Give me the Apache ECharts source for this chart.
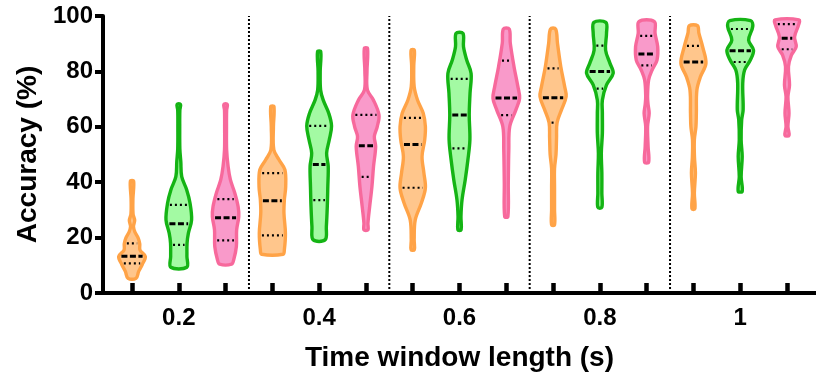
<!DOCTYPE html>
<html><head><meta charset="utf-8">
<script src="https://cdn.jsdelivr.net/npm/echarts@6/dist/echarts.min.js"></script>
<style>html,body{margin:0;padding:0;background:#fff}#c{width:816px;height:379px}</style>
</head><body><div id="c"></div>
<script>
// ---- data ----
const groupLabels = ['0.2', '0.4', '0.6', '0.8', '1'];
const seriesNames = ['Orange', 'Green', 'Pink'];
const yTicks = [0, 20, 40, 60, 80, 100];

// violin profiles: [accuracy %, relative density 0-100], bottom to top
const orangeProfiles = [
  [[5.3,30],[7.8,50],[10.2,76],[13.2,100],[15.5,60],[17.8,58],[20,45],[22,22],[24,11],[26.2,20],[28.5,8],[34,7],[40.4,12]],
  [[14,80],[15.6,90],[21.6,98],[28.8,87],[33.6,90],[38.4,100],[44.5,94],[48.1,50],[51.7,11],[60,8],[67.3,12]],
  [[15.6,12],[19.2,11],[26.4,19],[32.5,65],[37.9,95],[43.3,84],[49.3,70],[55.3,90],[60.1,95],[64.9,79],[69.7,36],[74.5,11],[82,8],[87.7,12]],
  [[24.6,11],[30,11],[38,11],[45,11],[50,22],[56,26],[61.5,30],[66.1,63],[70.9,98],[74.5,87],[81.7,58],[90.2,33],[95.3,19]],
  [[30.4,11],[36.1,7],[43.3,15],[49,8],[55.3,7],[60.1,19],[64.9,22],[73.3,26],[78.1,53],[82.9,94],[88.9,69],[93.8,41],[96.5,30]]
];
const greenProfiles = [
  [[9.3,60],[13.2,61],[18,62],[21.6,72],[26.4,96],[32.5,84],[37.3,59],[42,22],[47.5,15],[52,8],[60,7],[66,8],[68.1,13]],
  [[19.2,45],[24,54],[31.2,61],[38.4,65],[45.7,68],[50.5,56],[55.3,76],[60.3,93],[64.9,72],[69.7,30],[73.3,11],[80,8],[87.1,12]],
  [[22.8,12],[27.6,11],[33.6,19],[40.9,43],[48.1,63],[55.3,78],[64.3,73],[72.1,79],[79.3,87],[84.1,54],[88.9,30],[93.7,26]],
  [[30.9,15],[36,15],[43.3,15],[50.5,11],[57.7,19],[65,19],[69.7,19],[75.1,50],[79.3,100],[82.9,76],[87.7,43],[93.8,50],[97.7,45]],
  [[36.7,15],[42,7],[49.3,15],[55.3,7],[62.5,11],[66.1,22],[75.7,19],[80.5,33],[84.1,76],[87.7,100],[91.3,63],[96.2,94],[98.3,78]]
];
const pinkProfiles = [
  [[10.4,45],[12,61],[16.8,81],[22.8,83],[27.6,99],[31.2,94],[36.1,69],[40.9,36],[45.7,19],[51.7,8],[60,7],[66,8],[68.1,13]],
  [[22.8,15],[25.2,15],[31.2,28],[38.4,45],[45.7,57],[52.9,73],[56.5,63],[60.1,85],[64.3,98],[69.7,56],[73.3,11],[80,8],[88.3,12]],
  [[27.6,12],[39.7,15],[51.7,19],[60.1,26],[66.1,72],[70.3,100],[74.5,87],[81.7,58],[90.2,30],[95.3,22]],
  [[47.2,15],[52.9,11],[60.1,7],[64.9,19],[68,11],[70.9,7],[76.9,15],[80.5,41],[84.1,78],[88.9,83],[93.8,63],[98,58]],
  [[56.9,15],[60.1,7],[64.9,15],[70.9,7],[75.1,19],[81.7,11],[85.9,33],[88.9,69],[92.5,57],[96.8,87],[98.6,90]]
];
// [lower quartile, median, upper quartile]
const orangeQuartiles = [[10.7,13.3,17.9],[20.8,33.3,43.3],[38.0,53.6,63.2],[61.5,70.5,81.1],[66,83.4,89.2]];
const greenQuartiles  = [[17.4,25.0,31.8],[33.5,46.4,60.3],[52.2,64.3,77.3],[73.8,80.0,89.3],[83.4,87.5,95.3]];
const pinkQuartiles   = [[19.0,27.2,33.9],[41.9,53.2,64.3],[64.2,70.4,83.9],[82.2,86.3,92.8],[88.0,92.0,97.1]];

// ---- rendering ----
const FONT = "'Liberation Sans', Arial, Helvetica, sans-serif";
const palette = [
  {fill: '#FFC68C', stroke: '#FFA347'},
  {fill: '#A3FAA3', stroke: '#14B414'},
  {fill: '#F99ACA', stroke: '#F7699C'}
];
const nS = seriesNames.length;
const posOf = (g, s) => g * nS + s;
const tickPositions = [];
groupLabels.forEach((_, g) => seriesNames.forEach((_, s) => tickPositions.push(posOf(g, s))));
const labelPositions = groupLabels.map((_, g) => posOf(g, 1));
const separatorPositions = groupLabels.slice(1).map((_, i) => posOf(i + 1, 0) - 0.5);
const xMin = -0.62, xMax = tickPositions[tickPositions.length - 1] + 0.62;

function densityAt(prof, v) {
  if (v <= prof[0][0]) return prof[0][1];
  for (let i = 1; i < prof.length; i++) {
    if (v <= prof[i][0]) {
      const [v0, d0] = prof[i - 1], [v1, d1] = prof[i];
      return d0 + (d1 - d0) * (v - v0) / (v1 - v0);
    }
  }
  return prof[prof.length - 1][1];
}

function violinSeries(sIdx, profiles, quartiles) {
  return {
    type: 'custom', name: seriesNames[sIdx], clip: false, z: 3,
    data: groupLabels.map((_, g) => [posOf(g, sIdx), g]),
    renderItem(params, api) {
      const x = api.value(0), g = api.value(1);
      const prof = profiles[g], q = quartiles[g];
      const scale = api.size([1, 0])[0] * 0.285 / 100;
      const right = [], left = [];
      prof.forEach(([v, d]) => {
        const p = api.coord([x, v]);
        const hw = Math.max(d * scale, 0.8);
        right.push([p[0] + hw, p[1]]);
        left.unshift([p[0] - hw, p[1]]);
      });
      const children = [{
        type: 'polygon',
        shape: {points: right.concat(left), smooth: 0.35},
        style: {fill: palette[sIdx].fill, stroke: palette[sIdx].stroke, lineWidth: 3.4, lineJoin: 'round'}
      }];
      q.forEach((qv, k) => {
        const p = api.coord([x, qv]);
        const hw = densityAt(prof, qv) * scale - 2.5;
        if (hw > 1) {
          children.push({
            type: 'line',
            shape: {x1: p[0] - hw, y1: p[1], x2: p[0] + hw, y2: p[1]},
            style: k === 1 ? {stroke: '#000', lineWidth: 3, lineDash: [6, 2.5]}
                           : {stroke: '#000', lineWidth: 2.2, lineDash: [2, 3]}
          });
        }
      });
      return {type: 'group', children};
    }
  };
}

const chart = echarts.init(document.getElementById('c'), null, {renderer: 'canvas'});
chart.setOption({
  animation: false,
  backgroundColor: '#fff',
  grid: {left: 103, right: 0, top: 16, bottom: 86, containLabel: false, outerBoundsMode: 'none'},
  xAxis: {
    type: 'value', min: xMin, max: xMax,
    splitLine: {show: false},
    axisLine: {show: true, onZero: false, lineStyle: {color: '#000', width: 4}},
    axisTick: {show: true, inside: true, length: 10, lineStyle: {color: '#000', width: 4.5}, customValues: tickPositions},
    axisLabel: {
      show: true, customValues: labelPositions,
      formatter: v => groupLabels[Math.round((v - 1) / nS)],
      color: '#000', fontFamily: FONT, fontWeight: 'bold', fontSize: 24, margin: 13
    },
    name: 'Time window length (s)', nameLocation: 'middle', nameGap: 51,
    nameTextStyle: {color: '#000', fontFamily: FONT, fontWeight: 'bold', fontSize: 28}
  },
  yAxis: {
    type: 'value', min: yTicks[0], max: yTicks[yTicks.length - 1], interval: 20,
    splitLine: {show: false},
    axisLine: {show: true, onZero: false, lineStyle: {color: '#000', width: 4}},
    axisTick: {show: true, inside: false, length: 8, lineStyle: {color: '#000', width: 4}},
    axisLabel: {color: '#000', fontFamily: FONT, fontWeight: 'bold', fontSize: 24, margin: 10},
    name: 'Accuracy (%)', nameLocation: 'middle', nameGap: 60,
    nameTextStyle: {color: '#000', fontFamily: FONT, fontWeight: 'bold', fontSize: 28}
  },
  series: [
    {
      type: 'custom', name: 'separators', clip: false, z: 1,
      data: separatorPositions.map(p => [p, 0]),
      renderItem(params, api) {
        const a = api.coord([api.value(0), yTicks[0]]);
        const b = api.coord([api.value(0), yTicks[yTicks.length - 1]]);
        return {type: 'line', shape: {x1: a[0], y1: a[1], x2: b[0], y2: b[1]},
                style: {stroke: '#000', lineWidth: 2, lineDash: [2, 2]}};
      }
    },
    violinSeries(0, orangeProfiles, orangeQuartiles),
    violinSeries(1, greenProfiles, greenQuartiles),
    violinSeries(2, pinkProfiles, pinkQuartiles)
  ]
});
</script>
</body></html>
